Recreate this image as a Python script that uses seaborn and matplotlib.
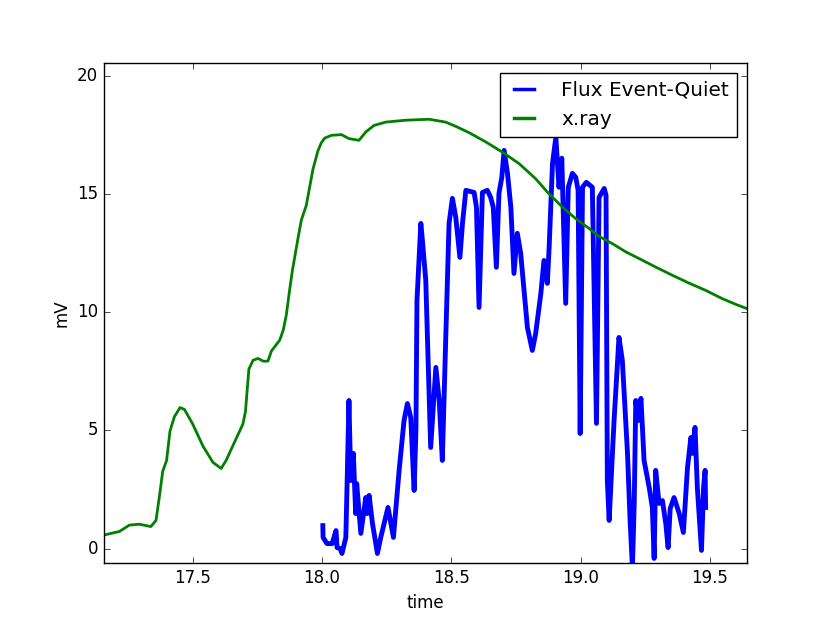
import pandas as pd
import matplotlib
matplotlib.use("Agg")
import matplotlib.pyplot as plt
import seaborn as sns

# x.ray curve (green)
xray_time = [17.156, 17.216, 17.255, 17.293, 17.338, 17.358, 17.371, 17.384, 17.399,
             17.412, 17.429, 17.451, 17.468, 17.500, 17.539, 17.578, 17.610, 17.629,
             17.655, 17.694, 17.704, 17.717, 17.733, 17.752, 17.774, 17.791, 17.804,
             17.836, 17.850, 17.862, 17.874, 17.885, 17.907, 17.920, 17.939, 17.952,
             17.965, 17.984, 17.997, 18.010, 18.036, 18.075, 18.104, 18.143, 18.169,
             18.201, 18.246, 18.324, 18.414, 18.478, 18.517, 18.569, 18.633, 18.697,
             18.762, 18.826, 18.871, 18.929, 18.981, 19.033, 19.071, 19.123, 19.175,
             19.226, 19.290, 19.355, 19.419, 19.484, 19.548, 19.600, 19.643]
xray_mv = [0.57, 0.72, 0.99, 1.03, 0.93, 1.19, 2.19, 3.27, 3.73,
           4.97, 5.58, 5.97, 5.89, 5.27, 4.35, 3.65, 3.39, 3.73,
           4.35, 5.27, 5.81, 7.59, 7.97, 8.05, 7.93, 7.94, 8.36,
           8.82, 9.25, 9.90, 10.90, 11.75, 13.14, 13.91, 14.53, 15.30,
           16.07, 16.84, 17.18, 17.38, 17.50, 17.53, 17.36, 17.29, 17.64,
           17.92, 18.06, 18.14, 18.18, 18.06, 17.88, 17.61, 17.22, 16.79,
           16.30, 15.66, 15.10, 14.46, 13.97, 13.55, 13.22, 12.91, 12.56,
           12.28, 11.92, 11.57, 11.24, 10.93, 10.58, 10.34, 10.16]

# Flux Event-Quiet (blue)
flux_time = [18.003, 18.004, 18.019, 18.039, 18.054, 18.058, 18.070, 18.077, 18.092,
             18.098, 18.104, 18.111, 18.121, 18.130, 18.134, 18.150, 18.169, 18.175,
             18.182, 18.195, 18.214, 18.227, 18.255, 18.276, 18.298, 18.317, 18.330,
             18.343, 18.356, 18.363, 18.367, 18.382, 18.388, 18.401, 18.420, 18.440,
             18.453, 18.465, 18.478, 18.491, 18.504, 18.517, 18.533, 18.543, 18.556,
             18.588, 18.597, 18.607, 18.620, 18.639, 18.652, 18.662, 18.674, 18.684,
             18.695, 18.704, 18.717, 18.730, 18.742, 18.755, 18.768, 18.794, 18.813,
             18.826, 18.846, 18.858, 18.871, 18.878, 18.891, 18.904, 18.916, 18.927,
             18.942, 18.952, 18.968, 18.981, 18.990, 18.998, 19.007, 19.022, 19.045,
             19.061, 19.071, 19.091, 19.098, 19.103, 19.110, 19.129, 19.148, 19.161,
             19.181, 19.191, 19.200, 19.207, 19.213, 19.222, 19.233, 19.245, 19.265,
             19.277, 19.284, 19.290, 19.303, 19.316, 19.329, 19.338, 19.346, 19.361,
             19.381, 19.397, 19.413, 19.426, 19.432, 19.442, 19.451, 19.467, 19.475,
             19.481, 19.483]
flux_mv = [0.97, 0.47, 0.21, 0.21, 0.76, 0.04, 0.00, -0.21, 0.47,
           3.31, 6.27, 2.88, 4.03, 1.48, 2.75, 0.64, 2.16, 1.48,
           2.25, 1.06, -0.21, 0.47, 1.74, 0.47, 3.31, 5.42, 6.14,
           5.55, 2.46, 5.00, 10.51, 13.77, 13.05, 11.36, 4.28, 7.67,
           6.27, 3.73, 8.81, 13.77, 14.83, 14.03, 12.33, 13.77, 15.17,
           15.08, 14.45, 10.21, 15.08, 15.17, 14.87, 14.45, 11.91, 15.04,
           15.72, 16.86, 15.89, 14.45, 11.65, 13.35, 12.50, 9.36, 8.39,
           9.11, 10.81, 12.20, 11.23, 12.75, 16.31, 17.42, 15.30, 16.53,
           10.38, 15.30, 15.89, 15.72, 15.17, 4.87, 15.30, 15.51, 15.30,
           5.30, 14.87, 15.25, 14.96, 2.88, 1.19, 5.42, 8.94, 7.97,
           4.03, 1.19, -0.80, 1.91, 6.27, 5.42, 6.36, 3.73, 2.58,
           1.74, -0.42, 3.31, 1.91, 2.03, 1.06, 0.04, 1.69, 2.16,
           1.48, 0.68, 3.43, 4.70, 4.03, 5.13, 2.58, -0.08, 2.58,
           3.31, 1.74]

flux = pd.DataFrame({"time": flux_time, "mV": flux_mv})
xray = pd.DataFrame({"time": xray_time, "mV": xray_mv})

# old matplotlib look
plt.style.use("classic")
plt.rcParams["figure.facecolor"] = "white"
plt.rcParams["savefig.facecolor"] = "white"
plt.rcParams["font.family"] = ["DejaVu Sans"]

fig, ax = plt.subplots(figsize=(8.3, 6.26), dpi=100)
fig.subplots_adjust(left=0.125, right=0.9, bottom=0.1, top=0.9)

# blue trace is noisy in the original, so it reads as a thicker band
sns.lineplot(data=flux, x="time", y="mV", color="b", linewidth=3.5,
             estimator=None, sort=False, label="Flux Event-Quiet", ax=ax)
sns.lineplot(data=xray, x="time", y="mV", color="g", linewidth=2,
             estimator=None, sort=False, label="x.ray", ax=ax)

ax.set_xlim(17.156, 19.643)
ax.set_ylim(-0.63, 20.58)
ax.set_xticks([17.5, 18.0, 18.5, 19.0, 19.5])
ax.set_yticks([0, 5, 10, 15, 20])
ax.set_xlabel("time")
ax.set_ylabel("mV")

leg = ax.legend(loc="upper right", handlelength=1.6, handletextpad=1.05)
for line in leg.get_lines():
    line.set_linewidth(2.5)

fig.savefig("out.png", dpi=100)
